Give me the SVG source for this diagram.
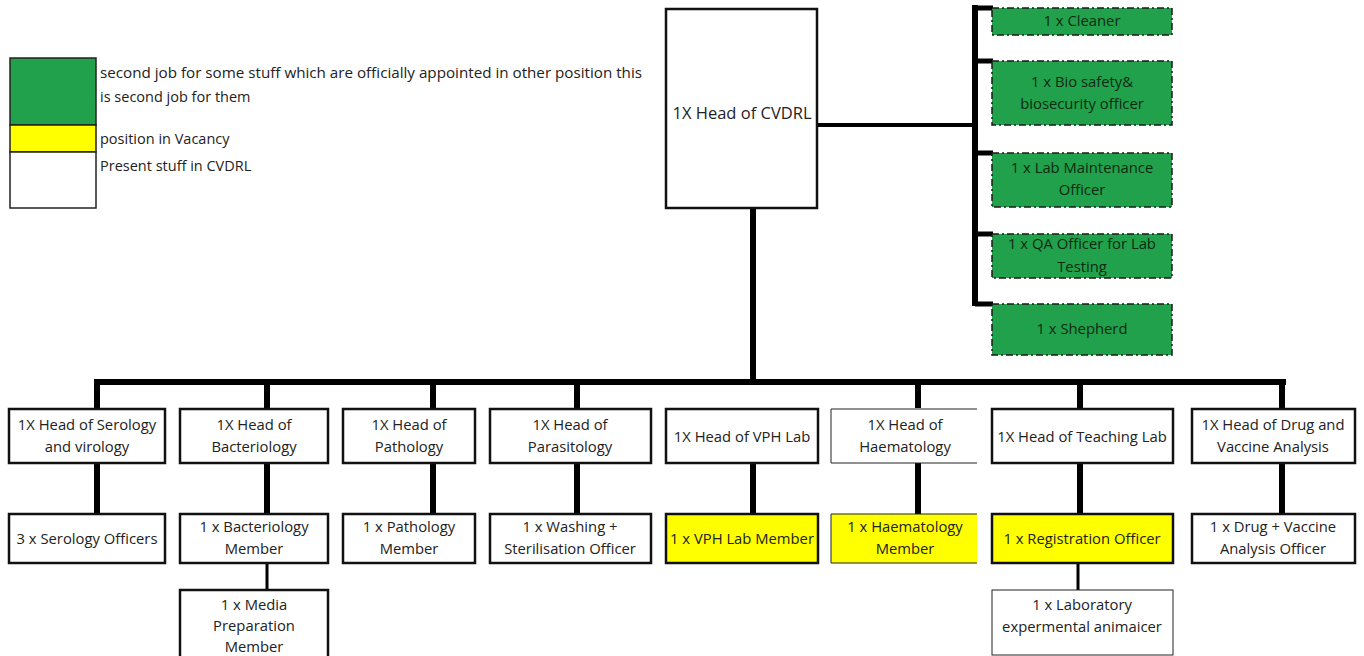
<svg xmlns="http://www.w3.org/2000/svg" width="1364" height="656" viewBox="0 0 1364 656">
<style>
text{font-family:"Open Sans","Liberation Sans",sans-serif;font-size:14.8px;fill:#222;text-anchor:middle}
.leg{text-anchor:start;font-size:14.5px}
.box{fill:#fff;stroke:#111;stroke-width:2.5}
.vac{fill:#ffff00;stroke:#111;stroke-width:2.5}
.thin{fill:none;stroke:#222;stroke-width:1}
.sec{fill:#21a14b;stroke:#1a1a1a;stroke-width:1.5;stroke-dasharray:7 3 2 3}
.sec-t{fill:#0d2a12}
.c{stroke:#000;fill:none}
.big{font-size:16.5px}
</style>
<g id="legend">
<rect x="10" y="58" width="86" height="67" fill="#21a14b" stroke="#222" stroke-width="1.5"/>
<rect x="10" y="125" width="86" height="27" fill="#ffff00" stroke="#222" stroke-width="1.5"/>
<rect x="10" y="152" width="86" height="56" fill="#fff" stroke="#222" stroke-width="1.5"/>
<text class="leg" x="100" y="78" textLength="542" lengthAdjust="spacingAndGlyphs">second job for some stuff which are officially appointed in other position  this</text>
<text class="leg" x="100" y="102">is second job for them</text>
<text class="leg" x="100" y="144">position in Vacancy</text>
<text class="leg" x="100" y="171">Present stuff in CVDRL</text>
</g>
<g id="connectors">
<line class="c" x1="817" y1="125" x2="975" y2="125" stroke-width="4"/>
<line class="c" x1="975" y1="5" x2="975" y2="306" stroke-width="6"/>
<line class="c" x1="975" y1="8" x2="993" y2="8" stroke-width="5"/>
<line class="c" x1="975" y1="61" x2="993" y2="61" stroke-width="5"/>
<line class="c" x1="975" y1="153" x2="993" y2="153" stroke-width="5"/>
<line class="c" x1="975" y1="234" x2="993" y2="234" stroke-width="5"/>
<line class="c" x1="975" y1="304" x2="993" y2="304" stroke-width="5"/>
<line class="c" x1="753" y1="208" x2="753" y2="382" stroke-width="6"/>
<line class="c" x1="94" y1="382" x2="1286" y2="382" stroke-width="6"/>
<line class="c" x1="97" y1="382" x2="97" y2="514" stroke-width="6"/>
<line class="c" x1="267" y1="382" x2="267" y2="408" stroke-width="6"/>
<line class="c" x1="433" y1="382" x2="433" y2="408" stroke-width="6"/>
<line class="c" x1="577" y1="382" x2="577" y2="408" stroke-width="6"/>
<line class="c" x1="918" y1="382" x2="918" y2="408" stroke-width="6"/>
<line class="c" x1="1080" y1="382" x2="1080" y2="408" stroke-width="6"/>
<line class="c" x1="1282" y1="382" x2="1282" y2="408" stroke-width="6"/>
<line class="c" x1="267" y1="463" x2="267" y2="514" stroke-width="6"/>
<line class="c" x1="433" y1="463" x2="433" y2="514" stroke-width="6"/>
<line class="c" x1="577" y1="463" x2="577" y2="514" stroke-width="6"/>
<line class="c" x1="753" y1="463" x2="753" y2="514" stroke-width="6"/>
<line class="c" x1="918" y1="463" x2="918" y2="514" stroke-width="6"/>
<line class="c" x1="1080" y1="463" x2="1080" y2="514" stroke-width="6"/>
<line class="c" x1="1282" y1="463" x2="1282" y2="514" stroke-width="6"/>
<line class="c" x1="267" y1="563" x2="267" y2="590" stroke-width="3"/>
<line class="c" x1="1078" y1="563" x2="1078" y2="590" stroke-width="3"/>
</g>
<g id="head-cvdrl">
<rect class="box" x="666" y="9" width="151" height="199"/>
<text class="big" x="742" y="119">1X Head of CVDRL</text>
</g>
<g id="cleaner">
<rect class="sec" x="992" y="8" width="180" height="27"/>
<text class="sec-t" x="1082" y="26">1 x Cleaner</text>
</g>
<g id="biosafety">
<rect class="sec" x="992" y="61" width="180" height="64"/>
<text class="sec-t" x="1082" y="87">1 x  Bio safety&amp;</text>
<text class="sec-t" x="1082" y="109">biosecurity  officer</text>
</g>
<g id="lab-maintenance">
<rect class="sec" x="992" y="153" width="180" height="54"/>
<text class="sec-t" x="1082" y="173">1 x Lab Maintenance</text>
<text class="sec-t" x="1082" y="195">Officer</text>
</g>
<g id="qa-officer">
<rect class="sec" x="992" y="234" width="180" height="44"/>
<text class="sec-t" x="1082" y="249">1 x QA Officer for Lab</text>
<text class="sec-t" x="1082" y="272">Testing</text>
</g>
<g id="shepherd">
<rect class="sec" x="992" y="304" width="180" height="51"/>
<text class="sec-t" x="1082" y="334">1 x Shepherd</text>
</g>
<g id="head-serology">
<rect class="box" x="9" y="409" width="156" height="54"/>
<text x="87" y="430">1X Head of Serology</text>
<text x="87" y="452">and virology</text>
</g>
<g id="head-bacteriology">
<rect class="box" x="180" y="409" width="148" height="54"/>
<text x="254" y="430">1X Head of</text>
<text x="254" y="452">Bacteriology</text>
</g>
<g id="head-pathology">
<rect class="box" x="343" y="409" width="132" height="54"/>
<text x="409" y="430">1X Head of</text>
<text x="409" y="452">Pathology</text>
</g>
<g id="head-parasitology">
<rect class="box" x="490" y="409" width="161" height="54"/>
<text x="570" y="430">1X Head of</text>
<text x="570" y="452">Parasitology</text>
</g>
<g id="head-vph">
<rect class="box" x="666" y="409" width="152" height="54"/>
<text x="742" y="442">1X Head of VPH Lab</text>
</g>
<g id="head-haematology">
<path class="thin" d="M977 409 H831 V463 H977"/>
<text x="905" y="430">1X Head of</text>
<text x="905" y="452">Haematology</text>
</g>
<g id="head-teaching">
<rect class="box" x="992" y="409" width="181" height="54"/>
<text x="1082" y="442">1X Head of Teaching Lab</text>
</g>
<g id="head-drug">
<rect class="box" x="1192" y="409" width="163" height="54"/>
<text x="1273" y="430">1X Head of Drug and</text>
<text x="1273" y="452">Vaccine Analysis</text>
</g>
<g id="serology-officers">
<rect class="box" x="9" y="514" width="156" height="49"/>
<text x="87" y="544">3 x Serology Officers</text>
</g>
<g id="bacteriology-member">
<rect class="box" x="180" y="514" width="148" height="49"/>
<text x="254" y="532">1 x Bacteriology</text>
<text x="254" y="554">Member</text>
</g>
<g id="pathology-member">
<rect class="box" x="343" y="514" width="132" height="49"/>
<text x="409" y="532">1 x Pathology</text>
<text x="409" y="554">Member</text>
</g>
<g id="washing-officer">
<rect class="box" x="490" y="514" width="161" height="49"/>
<text x="570" y="532">1 x Washing +</text>
<text x="570" y="554">Sterilisation Officer</text>
</g>
<g id="vph-member">
<rect class="vac" x="666" y="514" width="152" height="49"/>
<text x="742" y="544">1 x VPH Lab Member</text>
</g>
<g id="haematology-member">
<rect x="831" y="514" width="146" height="49" fill="#ffff00"/>
<path class="thin" d="M977 514 H831 V563 H977"/>
<text x="905" y="532">1 x Haematology</text>
<text x="905" y="554">Member</text>
</g>
<g id="registration-officer">
<rect class="vac" x="992" y="514" width="181" height="49"/>
<text x="1082" y="544">1 x Registration Officer</text>
</g>
<g id="drug-officer">
<rect class="box" x="1192" y="514" width="163" height="49"/>
<text x="1273" y="532">1 x Drug + Vaccine</text>
<text x="1273" y="554">Analysis Officer</text>
</g>
<g id="media-preparation">
<rect class="box" x="180" y="590" width="148" height="70"/>
<text x="254" y="610">1 x Media</text>
<text x="254" y="631">Preparation</text>
<text x="254" y="652">Member</text>
</g>
<g id="laboratory-animal">
<rect class="thin" x="992" y="590" width="181" height="65" stroke-width="1.5"/>
<text x="1082" y="610">1 x Laboratory</text>
<text x="1082" y="632">expermental animaicer</text>
</g>
</svg>
